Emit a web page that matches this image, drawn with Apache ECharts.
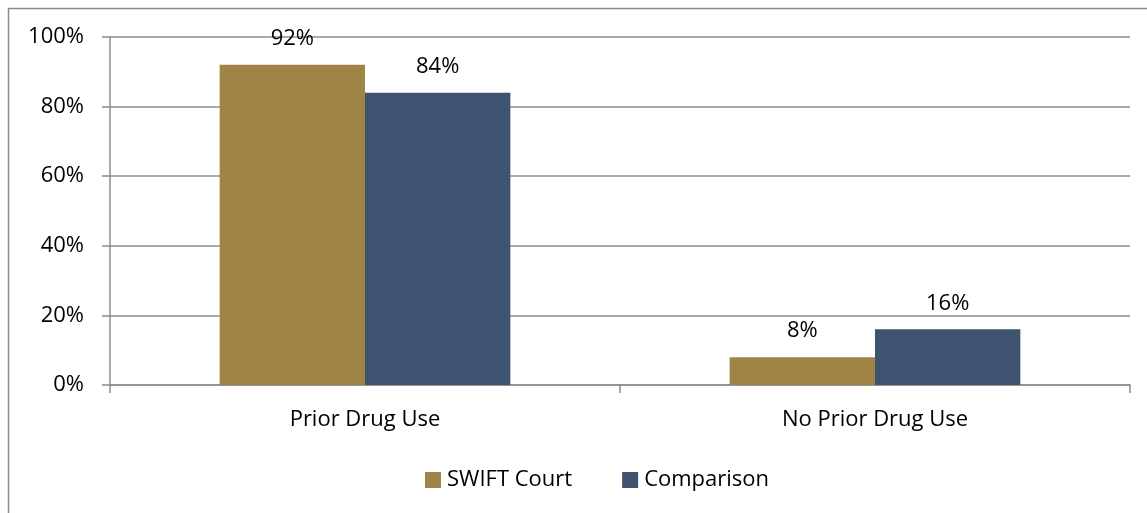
<!DOCTYPE html>
<html>
<head>
<meta charset="utf-8">
<script src="https://cdn.jsdelivr.net/npm/echarts@6/dist/echarts.min.js"></script>
<style>
  html, body { margin: 0; padding: 0; background: #fff; }
  #chart { width: 1147px; height: 513px; }
</style>
</head>
<body>
<div id="chart"></div>
<script>
// Share of participants by prior drug use
const categories = ['Prior Drug Use', 'No Prior Drug Use'];
const seriesNames = ['SWIFT Court', 'Comparison'];
const swiftCourt = [92, 8];
const comparison = [84, 16];
const yTicks = [0, 20, 40, 60, 80, 100];

const FONT = '"Open Sans", Lato, sans-serif';
const FONT_SIZE = 22;
const GRID_COLOR = '#8c8c8c';

const chart = echarts.init(document.getElementById('chart'), null, { renderer: 'canvas' });

function barSeries(name, data, color) {
  return {
    name: name,
    type: 'bar',
    data: data,
    barGap: '0%',
    barCategoryGap: '43%',
    itemStyle: { color: color },
    label: {
      show: true,
      position: 'top',
      distance: 15,
      formatter: p => p.value + '%',
      color: '#000',
      fontSize: FONT_SIZE,
      fontFamily: FONT
    }
  };
}

chart.setOption({
  animation: false,
  graphic: [{
    type: 'rect',
    shape: { x: 8.5, y: 8.5, width: 1160, height: 520 },
    style: { fill: 'none', stroke: '#8a8a8a', lineWidth: 1.5 },
    silent: true
  }],
  grid: { left: 110, right: 17, top: 37, bottom: 128 },
  legend: {
    data: seriesNames,
    left: 420,
    top: 464,
    itemWidth: 16,
    itemHeight: 16,
    itemGap: 50,
    icon: 'rect',
    textStyle: { fontSize: FONT_SIZE, fontFamily: FONT, color: '#000', padding: [0, 0, 0, 1] }
  },
  xAxis: {
    type: 'category',
    data: categories,
    axisLine: { lineStyle: { color: GRID_COLOR, width: 1.5 } },
    axisTick: { show: true, length: 8, lineStyle: { color: GRID_COLOR, width: 1.5 } },
    axisLabel: { color: '#000', fontSize: FONT_SIZE, fontFamily: FONT, margin: 24 }
  },
  yAxis: {
    type: 'value',
    min: yTicks[0],
    max: yTicks[yTicks.length - 1],
    interval: yTicks[1] - yTicks[0],
    axisLine: { show: true, lineStyle: { color: GRID_COLOR, width: 1.5 } },
    axisTick: { show: true, length: 8, lineStyle: { color: GRID_COLOR, width: 1.5 } },
    splitLine: { lineStyle: { color: GRID_COLOR, width: 1.5 } },
    axisLabel: { color: '#000', fontSize: FONT_SIZE, fontFamily: FONT, margin: 26, formatter: '{value}%' }
  },
  series: [
    barSeries(seriesNames[0], swiftCourt, '#a08446'),
    barSeries(seriesNames[1], comparison, '#3d536f')
  ]
});
</script>
</body>
</html>
